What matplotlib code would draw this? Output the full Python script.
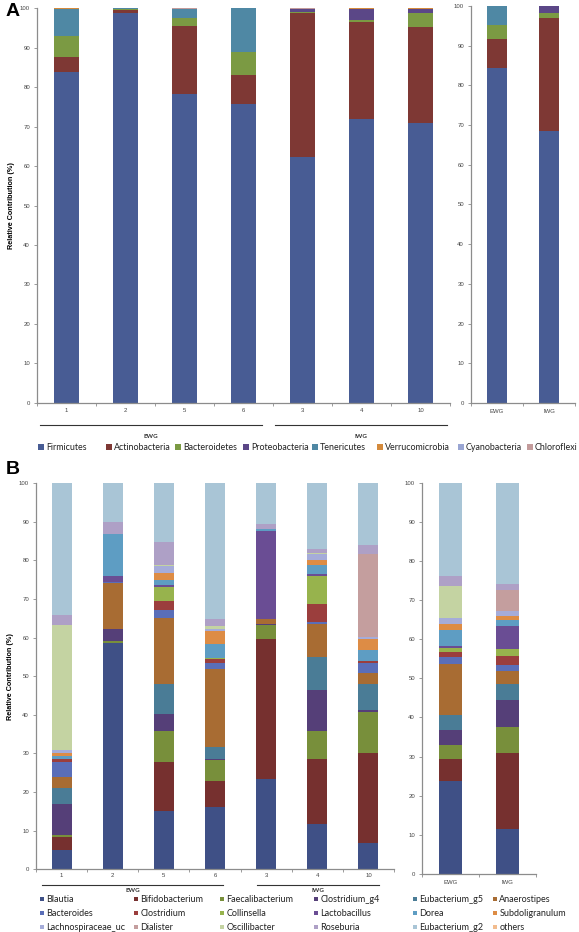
import matplotlib
matplotlib.use('Agg')
import matplotlib.pyplot as plt
from matplotlib import font_manager
from matplotlib.patches import Rectangle
from matplotlib.lines import Line2D

# ---------------- data ----------------
samples = ['1', '2', '5', '6', '3', '4', '10']
sample_groups = ['EWG', 'EWG', 'EWG', 'EWG', 'IWG', 'IWG', 'IWG']
groups = ['EWG', 'IWG']

phyla = ['Firmicutes', 'Actinobacteria', 'Bacteroidetes', 'Proteobacteria',
         'Tenericutes', 'Verrucomicrobia', 'Cyanobacteria', 'Chloroflexi']
phyla_colors = ['#485C94', '#7E3834', '#7B9A43', '#5B4787',
                '#4F88A4', '#D48A3C', '#9AA6D3', '#C39B9B']

# panel A, per sample (1,2,5,6,3,4,10)
firmicutes      = [83.9, 98.7, 78.3, 75.7, 62.4, 71.9, 70.8]
actinobacteria  = [3.7, 0.9, 17.3, 7.3, 36.3, 24.7, 24.4]
bacteroidetes   = [5.4, 0.1, 2.0, 6.0, 0.4, 0.4, 3.5]
proteobacteria  = [0.0, 0.2, 0.0, 0.0, 0.7, 2.8, 1.1]
tenericutes     = [6.8, 0.1, 2.2, 11.0, 0.0, 0.0, 0.0]
verrucomicrobia = [0.2, 0.0, 0.0, 0.0, 0.1, 0.2, 0.2]
cyanobacteria   = [0.0, 0.0, 0.0, 0.0, 0.0, 0.0, 0.0]
chloroflexi     = [0.0, 0.0, 0.2, 0.0, 0.1, 0.0, 0.0]

# panel A, per group (EWG, IWG)
firmicutes_g      = [84.3, 68.5]
actinobacteria_g  = [7.3, 28.5]
bacteroidetes_g   = [3.5, 1.3]
proteobacteria_g  = [0.0, 1.7]
tenericutes_g     = [4.9, 0.0]
verrucomicrobia_g = [0.0, 0.0]
cyanobacteria_g   = [0.0, 0.0]
chloroflexi_g     = [0.0, 0.0]

genera = ['Blautia', 'Bifidobacterium', 'Faecalibacterium', 'Clostridium_g4',
          'Eubacterium_g5', 'Anaerostipes', 'Bacteroides', 'Clostridium',
          'Collinsella', 'Lactobacillus', 'Dorea', 'Subdoligranulum',
          'Lachnospiraceae_uc', 'Dialister', 'Oscillibacter', 'Roseburia',
          'Eubacterium_g2', 'others']
genera_colors = ['#3F5086', '#76302F', '#788F3B', '#553F78', '#4A7C96', '#A86C33',
                 '#5A6EB8', '#9B3E3D', '#97B34D', '#6A4D94', '#5E9DC3', '#DD8C45',
                 '#A5ACD9', '#C49E9E', '#C4D3A2', '#AEA0C6', '#A9C5D6', '#F2BC8E']

# panel B, per sample (1,2,5,6,3,4,10)
blautia            = [5.0, 58.6, 15.1, 16.1, 23.5, 11.7, 6.8]
bifidobacterium    = [3.4, 0.0, 12.7, 6.8, 36.1, 16.9, 23.3]
faecalibacterium   = [0.5, 0.4, 8.1, 5.4, 3.6, 7.2, 10.6]
clostridium_g4     = [8.0, 3.1, 4.4, 0.2, 0.4, 10.7, 0.5]
eubacterium_g5     = [4.1, 0.0, 7.6, 3.2, 0.0, 8.4, 6.7]
anaerostipes       = [3.0, 12.0, 17.2, 20.1, 1.2, 8.7, 2.8]
bacteroides        = [3.8, 0.2, 2.0, 1.5, 0.0, 0.3, 2.7]
clostridium        = [0.7, 0.0, 2.3, 1.2, 0.0, 4.9, 0.5]
collinsella        = [0.0, 0.0, 3.7, 0.3, 0.0, 7.1, 0.0]
lactobacillus      = [0.0, 1.6, 0.4, 0.0, 22.7, 0.6, 0.0]
dorea              = [0.9, 10.8, 1.5, 3.5, 0.5, 2.2, 2.8]
subdoligranulum    = [0.6, 0.0, 1.7, 3.3, 0.0, 1.3, 2.9]
lachnospiraceae_uc = [1.0, 0.0, 1.8, 0.7, 0.0, 1.7, 0.6]
dialister          = [0.0, 0.0, 0.0, 0.0, 0.0, 0.0, 21.3]
oscillibacter      = [32.2, 0.0, 0.4, 0.7, 0.0, 0.2, 0.2]
roseburia          = [2.6, 3.2, 5.7, 1.9, 1.3, 1.1, 2.2]
eubacterium_g2     = [34.2, 10.1, 15.4, 35.1, 10.7, 17.0, 16.1]
others             = [0.0, 0.0, 0.0, 0.0, 0.0, 0.0, 0.0]

# panel B, per group (EWG, IWG)
blautia_g            = [23.7, 11.4]
bifidobacterium_g    = [5.7, 19.5]
faecalibacterium_g   = [3.6, 6.6]
clostridium_g4_g     = [3.9, 6.9]
eubacterium_g5_g     = [3.8, 4.2]
anaerostipes_g       = [12.9, 3.3]
bacteroides_g        = [1.9, 1.4]
clostridium_g        = [1.2, 2.3]
collinsella_g        = [1.1, 1.8]
lactobacillus_g      = [0.4, 5.9]
dorea_g              = [4.1, 1.5]
subdoligranulum_g    = [1.5, 1.2]
lachnospiraceae_uc_g = [1.5, 1.1]
dialister_g          = [0.0, 5.4]
oscillibacter_g      = [8.3, 0.2]
roseburia_g          = [2.6, 1.3]
eubacterium_g2_g     = [23.8, 26.0]
others_g             = [0.0, 0.0]

yticks = [0, 10, 20, 30, 40, 50, 60, 70, 80, 90, 100]
ylabel = 'Relative Contribution (%)'

phyla_series = [firmicutes, actinobacteria, bacteroidetes, proteobacteria,
                tenericutes, verrucomicrobia, cyanobacteria, chloroflexi]
phyla_series_g = [firmicutes_g, actinobacteria_g, bacteroidetes_g, proteobacteria_g,
                  tenericutes_g, verrucomicrobia_g, cyanobacteria_g, chloroflexi_g]
genera_series = [blautia, bifidobacterium, faecalibacterium, clostridium_g4,
                 eubacterium_g5, anaerostipes, bacteroides, clostridium,
                 collinsella, lactobacillus, dorea, subdoligranulum,
                 lachnospiraceae_uc, dialister, oscillibacter, roseburia,
                 eubacterium_g2, others]
genera_series_g = [blautia_g, bifidobacterium_g, faecalibacterium_g, clostridium_g4_g,
                   eubacterium_g5_g, anaerostipes_g, bacteroides_g, clostridium_g,
                   collinsella_g, lactobacillus_g, dorea_g, subdoligranulum_g,
                   lachnospiraceae_uc_g, dialister_g, oscillibacter_g, roseburia_g,
                   eubacterium_g2_g, others_g]

# ---------------- fonts ----------------
installed = {f.name for f in font_manager.fontManager.ttflist}
def pick(*names):
    for n in names:
        if n in installed:
            return n
    return 'DejaVu Sans'
TICKFONT = pick('Liberation Sans', 'Arial')
LEGFONT = pick('Liberation Sans Narrow', 'Lato', 'Liberation Sans')
plt.rcParams['font.family'] = [TICKFONT, 'DejaVu Sans']

W, H = 579, 932
fig = plt.figure(figsize=(W / 100, H / 100), dpi=100)
fig.patch.set_facecolor('white')

def add_axes_px(x0, x1, y0, y1):
    return fig.add_axes([x0 / W, 1 - y1 / H, (x1 - x0) / W, (y1 - y0) / H])

AXCOL = '#8C8C8C'

def style_axes(ax, labels, width, series, colors, tick_pad=2.0):
    n = len(labels)
    xs = list(range(n))
    bottom = [0.0] * n
    for vals, col in zip(series, colors):
        ax.bar(xs, vals, width=width, bottom=bottom, color=col, linewidth=0)
        bottom = [b + v for b, v in zip(bottom, vals)]
    ax.set_xlim(-0.5, n - 0.5)
    ax.set_ylim(0, 100)
    ax.set_yticks(yticks)
    ax.set_yticklabels([str(t) for t in yticks])
    ax.set_xticks(xs)
    ax.set_xticklabels(labels)
    ax.set_xticks([i - 0.5 for i in range(n + 1)], minor=True)
    for s in ['top', 'right']:
        ax.spines[s].set_visible(False)
    for s in ['left', 'bottom']:
        ax.spines[s].set_color(AXCOL)
        ax.spines[s].set_linewidth(0.9)
    ax.tick_params(axis='y', direction='out', length=2.5, width=0.6, color=AXCOL,
                   labelsize=4.3, labelcolor='#444444', pad=2.5)
    ax.tick_params(axis='x', which='major', length=0, labelsize=4.3,
                   labelcolor='#444444', pad=tick_pad)
    ax.tick_params(axis='x', which='minor', direction='out', length=2.5,
                   width=0.6, color=AXCOL)

# ---------------- panel A ----------------
axA = add_axes_px(37, 450, 8.3, 402.7)
style_axes(axA, samples, 0.41, phyla_series, phyla_colors, tick_pad=4)
axA.set_ylabel(ylabel, fontsize=5.2, fontweight='bold', labelpad=3.5)

axA2 = add_axes_px(471, 575, 5.8, 403)
style_axes(axA2, groups, 0.39, phyla_series_g, phyla_colors, tick_pad=4)

# ---------------- panel B ----------------
axB = add_axes_px(36, 394, 483, 869.3)
style_axes(axB, samples, 0.39, genera_series, genera_colors, tick_pad=2.5)
axB.set_ylabel(ylabel, fontsize=5.2, fontweight='bold', labelpad=3.5)

axB2 = add_axes_px(422, 536, 482.7, 874)
style_axes(axB2, groups, 0.41, genera_series_g, genera_colors, tick_pad=4)

# panel letters
fig.text(6 / W, 1 - 12 / H, 'A', fontsize=14, fontweight='bold', va='center', ha='left',
         family=TICKFONT)
fig.text(6 / W, 1 - 470 / H, 'B', fontsize=14, fontweight='bold', va='center', ha='left',
         family=TICKFONT)

# group brackets under the sample axes
def group_lines(x_ranges, y_line, y_text, names):
    for (x0, x1), nm in zip(x_ranges, names):
        fig.add_artist(Line2D([x0 / W, x1 / W], [1 - y_line / H, 1 - y_line / H],
                              color='#333333', linewidth=0.8))
        fig.text((x0 + x1) / 2 / W, 1 - y_text / H, nm, fontsize=4.5,
                 fontweight='bold', ha='center', va='center', color='#333333',
                 family=LEGFONT)

group_lines([(40, 262), (275, 447)], 425, 436, ['EWG', 'IWG'])
group_lines([(42, 223), (257, 379)], 884.5, 891, ['EWG', 'IWG'])

# legends (drawn row-wise like the original)
def draw_legend(names, colors, xs, ys, ncols, fs, sq):
    for i, (nm, col) in enumerate(zip(names, colors)):
        r, c = divmod(i, ncols)
        x, y = xs[c], ys[r]
        fig.add_artist(Rectangle(((x - sq / 2) / W, 1 - (y + sq / 2) / H), sq / W, sq / H,
                                 facecolor=col, edgecolor='none',
                                 transform=fig.transFigure))
        fig.text((x + sq / 2 + 2) / W, 1 - y / H, nm, fontsize=fs, ha='left',
                 va='center', color='#222222', family=LEGFONT)

draw_legend(phyla, phyla_colors, [41, 109, 178, 246, 315, 380, 461, 530], [447], 8, 6.4, 6)
draw_legend(genera, genera_colors, [42, 136, 222, 316, 415, 495], [899, 913, 927], 6, 6.5, 4.5)

fig.savefig('out.png', dpi=100, facecolor='white')
